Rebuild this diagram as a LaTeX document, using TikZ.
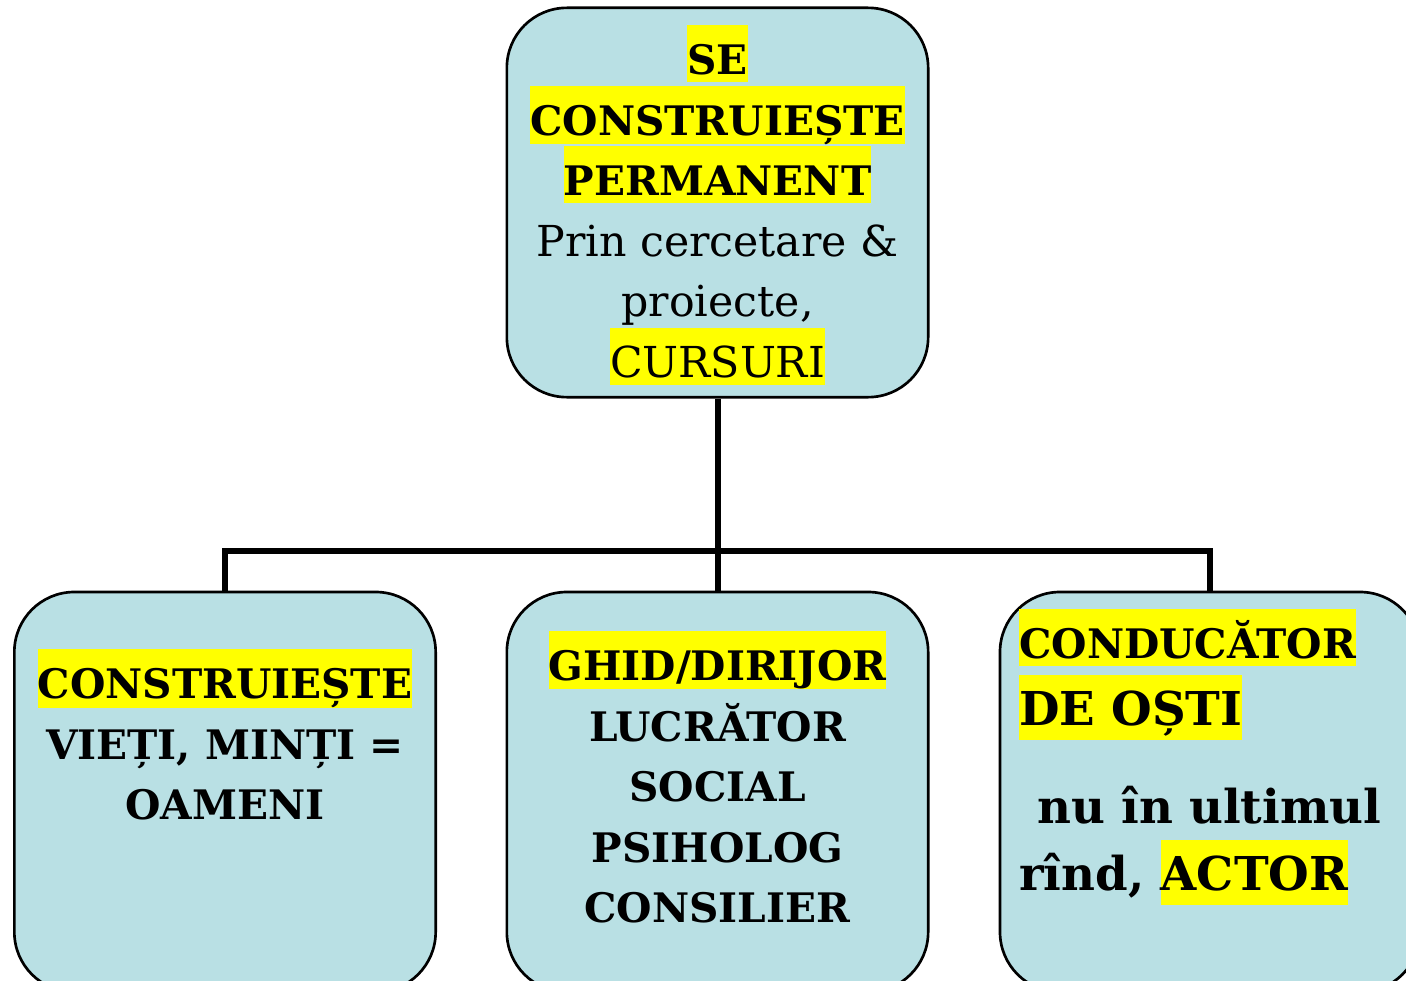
\documentclass[tikz,border=0pt]{standalone}
\usepackage{fontspec}
\setmainfont{DejaVu Serif}
\usetikzlibrary{positioning}

\definecolor{boxfill}{RGB}{185,224,228}
\definecolor{hlyellow}{RGB}{255,255,0}
\newcommand{\hl}[1]{{\setlength{\fboxsep}{0pt}\colorbox{hlyellow}{\rule[-5.5pt]{0pt}{42.5pt}#1}}}
\newcommand{\hlbig}[1]{{\setlength{\fboxsep}{0pt}\colorbox{hlyellow}{\rule[-10.5pt]{0pt}{48.75pt}#1}}}

\tikzset{
  rolebox/.style={draw, line width=2pt, fill=boxfill, rounded corners=45pt,
    minimum width=316pt, minimum height=300pt, inner sep=0pt},
  roletext/.style={inner sep=0pt, align=center, font=\fontsize{30.5}{45.4}\selectfont\bfseries},
  branch/.style={line width=4.5pt}
}

\begin{document}
\begin{tikzpicture}[x=0.75pt,y=0.75pt,yscale=-1,xscale=1]
\useasboundingbox (0,0) rectangle (1406,981);
\clip (0,0) rectangle (1406,981);

%Shape: Rounded Rect [id:top]
\node [rolebox, minimum height=292pt] (top) at (717.5,202.5) {};
%Shape: Rounded Rect [id:left]
\node [rolebox] (left) at (225,792) {};
%Shape: Rounded Rect [id:mid]
\node [rolebox] (mid) at (717.5,792) {};
%Shape: Rounded Rect [id:right]
\node [rolebox, minimum width=315pt] (right) at (1210,792) {};

%Straight Lines [id:fork]
\coordinate (fork) at (717.5,551);
\draw [branch] (top.south) -- (fork);
\draw [branch] (left.north) |- (fork) -| (right.north);
\draw [branch] (fork) -- (mid.north);

% Text Node
\node [roletext, anchor=north] (toptext) at (717.5,25)
  {\hl{SE}\\ \hl{CONSTRUIEȘTE}\\ \hl{PERMANENT}\\
   {\fontsize{32}{45.4}\selectfont\mdseries Prin cercetare \&}\\
   {\fontsize{32}{45.4}\selectfont\mdseries proiecte,}\\
   \hl{\fontsize{32}{45.4}\selectfont\mdseries CURSURI}};
% Text Node
\node [roletext, anchor=north] (lefttext) at (225,649)
  {\hl{CONSTRUIEȘTE}\\ VIEȚI, MINȚI =\\ OAMENI};
% Text Node
\node [roletext, anchor=north] (midtext) at (717.5,631)
  {\hl{GHID/DIRIJOR}\\ LUCRĂTOR\\ SOCIAL\\ PSIHOLOG\\ CONSILIER};
% Text Node
\node [roletext, align=left, anchor=north west, font=\fontsize{30.5}{50.25}\selectfont\bfseries] (righttext) at (1019,609)
  {\hl{CONDUCĂTOR}\\ \hlbig{\fontsize{35}{50.25}\selectfont DE OȘTI}\\[23.25pt]
   {\fontsize{35}{50.25}\selectfont\hspace*{13.5pt}nu în ultimul}\\
   {\fontsize{35}{50.25}\selectfont rînd, \hlbig{ACTOR}}};

\end{tikzpicture}
\end{document}
